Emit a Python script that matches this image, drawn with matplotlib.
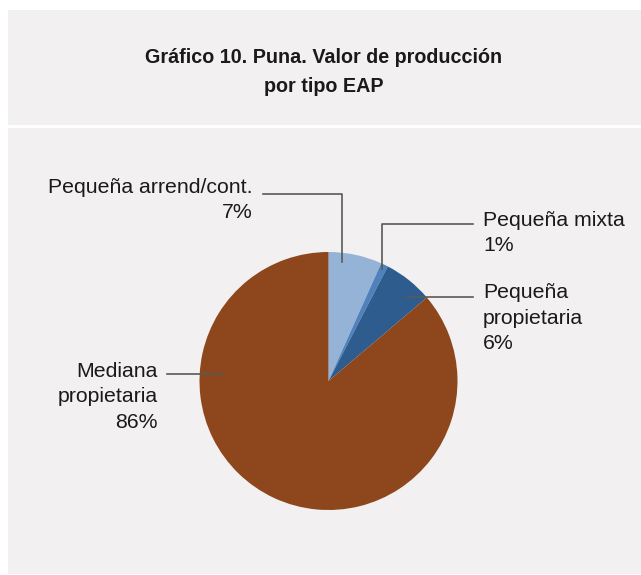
import numpy as np
import matplotlib.pyplot as plt
from matplotlib.patches import Rectangle

plt.rcParams['font.family'] = ['Liberation Sans', 'DejaVu Sans']

# Data
categories = ["Pequeña arrend/cont.", "Pequeña mixta", "Pequeña propietaria", "Mediana propietaria"]
label_text = ["Pequeña arrend/cont.\n7%", "Pequeña mixta\n1%", "Pequeña\npropietaria\n6%", "Mediana\npropietaria\n86%"]
shares = [6.7, 0.9, 6.2, 86.2]
colors = ["#95B3D7", "#4F81BD", "#2E5C8E", "#8E471D"]

W, H = 641, 575
fig = plt.figure(figsize=(W / 100, H / 100), dpi=100)
fig.patch.set_facecolor("white")


def fx(x):
    return x / W


def fy(y):
    return 1 - y / H


# panels
bg = "#F2F0F0"
fig.patches.append(Rectangle((fx(8), fy(125)), fx(633), 115 / H, transform=fig.transFigure,
                             facecolor=bg, edgecolor="none", zorder=-2))
fig.patches.append(Rectangle((fx(8), fy(574)), fx(633), 446 / H, transform=fig.transFigure,
                             facecolor=bg, edgecolor="none", zorder=-2))

fig.text(fx(324), fy(72), "Gráfico 10. Puna. Valor de producción\npor tipo EAP",
         ha="center", va="center", fontsize=14.2, fontweight="bold", linespacing=1.72, color="#1a1a1a")

# pie axes: center (328.5, 381), radius 129 px
cx, cy, r = 328.5, 381, 129
ax = fig.add_axes([fx(cx - r), fy(cy + r), 2 * r / W, 2 * r / H])
ax.set_facecolor("none")
wedges, _ = ax.pie(shares, colors=colors, startangle=90, counterclock=False, radius=1,
                   wedgeprops=dict(linewidth=0))
ax.set_xlim(-1, 1)
ax.set_ylim(-1, 1)
ax.set_aspect("equal")
ax.axis("off")

# label placement: (text x, text y, align, line start x, line y, anchor angle, anchor radius)
label_pos = [
    (253, 200, "right", 263, 194, 83.5, 0.93),
    (483, 233, "left", 473, 224, 64.3, 0.96),
    (483, 318, "left", 473, 297, 47, 0.89),
    (158, 397, "right", 167, 374, 176, 0.83),
]

for w, txt, (tx, ty, ha, sx, ly, ang, rr) in zip(wedges, label_text, label_pos):
    px, py = ax.transData.transform((rr * np.cos(np.radians(ang)), rr * np.sin(np.radians(ang))))
    py_top = H - py
    xs = [sx, px, px]
    ys = [ly, ly, py_top]
    fig.lines.append(plt.Line2D([fx(v) for v in xs], [fy(v) for v in ys], transform=fig.transFigure,
                                color="#595959", linewidth=1.2, zorder=5))
    fig.text(fx(tx), fy(ty), txt, ha=ha, va="center", multialignment=ha, fontsize=15.3,
             linespacing=1.42, color="#1a1a1a")

fig.savefig("out.png", dpi=100)
